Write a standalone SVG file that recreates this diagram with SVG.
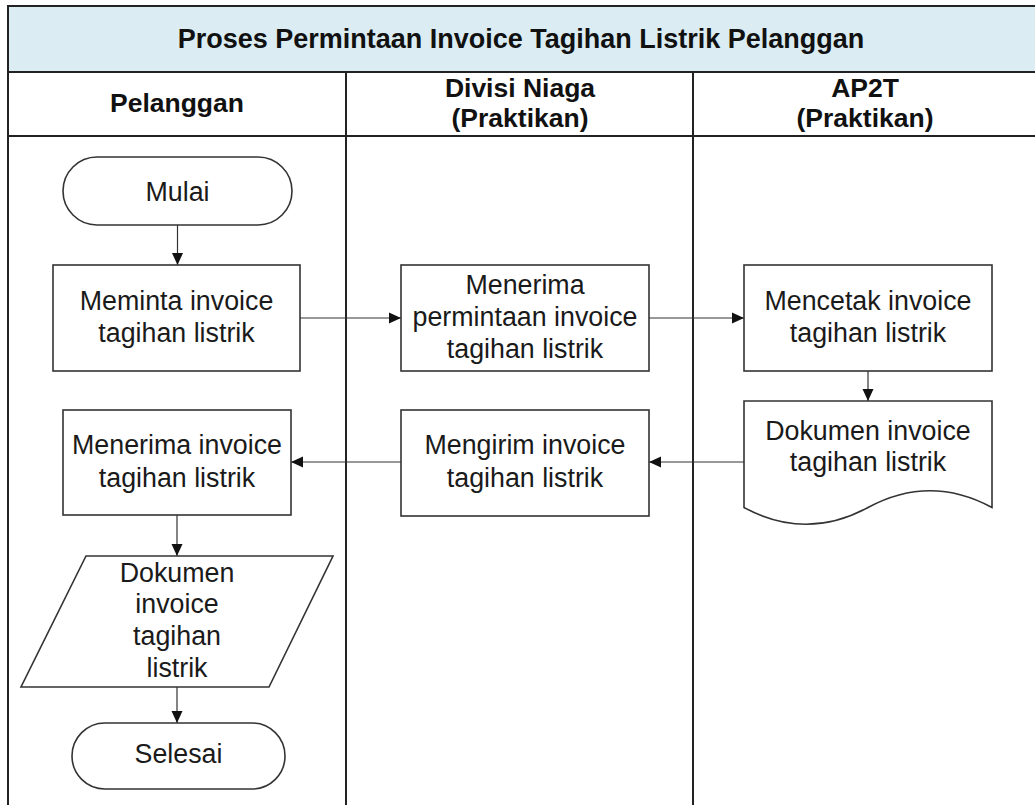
<svg xmlns="http://www.w3.org/2000/svg" width="1035" height="805" viewBox="0 0 1035 805">
<style>
  .lane { stroke: #222; stroke-width: 2; fill: none; }
  .node { fill: #ffffff; stroke: #333; stroke-width: 1.6; }
  .conn { stroke: #333; stroke-width: 1.2; fill: none; marker-end: url(#arrow); }
  .t { font-family: "Liberation Sans", Arial, sans-serif; font-size: 26.8px; fill: #1a1a1a; text-anchor: middle; }
  .h { font-family: "Liberation Sans", Arial, sans-serif; font-size: 26.5px; font-weight: bold; fill: #111; text-anchor: middle; }
  .title { font-size: 27px; }
</style>
<defs>
  <marker id="arrow" markerUnits="userSpaceOnUse" markerWidth="13" markerHeight="12" refX="12" refY="6" orient="auto">
    <path d="M0,0.5 L12,6 L0,11.5 Z" fill="#111"/>
  </marker>
</defs>
<rect width="1035" height="805" fill="#ffffff"/>
<g id="pool">
  <rect x="8" y="6" width="1030" height="66" fill="#dbedf3" stroke="#222" stroke-width="2"/>
  <line class="lane" x1="8" y1="72" x2="8" y2="805"/>
  <line class="lane" x1="8" y1="136" x2="1035" y2="136"/>
  <line class="lane" x1="346" y1="72" x2="346" y2="805"/>
  <line class="lane" x1="693" y1="72" x2="693" y2="805"/>
  <text class="h title" x="521" y="48">Proses Permintaan Invoice Tagihan Listrik Pelanggan</text>
  <text class="h" x="177" y="112">Pelanggan</text>
  <text class="h" x="520" y="97">Divisi Niaga</text>
  <text class="h" x="520" y="127">(Praktikan)</text>
  <text class="h" x="865" y="97">AP2T</text>
  <text class="h" x="865" y="127">(Praktikan)</text>
</g>
<g id="connectors">
  <path class="conn" d="M177.5,225 V265"/>
  <path class="conn" d="M300,318 H401"/>
  <path class="conn" d="M649,318 H744"/>
  <path class="conn" d="M868,371 V401"/>
  <path class="conn" d="M744,462 H649"/>
  <path class="conn" d="M401,462 H291"/>
  <path class="conn" d="M177,515 V556"/>
  <path class="conn" d="M177,687 V723"/>
</g>
<g id="mulai">
  <rect class="node" x="63" y="157" width="229" height="68" rx="34" ry="34"/>
  <text class="t" x="177.5" y="201">Mulai</text>
</g>
<g id="meminta">
  <rect class="node" x="53" y="265" width="247" height="106"/>
  <text class="t" x="176.5" y="310">Meminta invoice</text>
  <text class="t" x="176.5" y="342">tagihan listrik</text>
</g>
<g id="menerima-permintaan">
  <rect class="node" x="401" y="265" width="248" height="106"/>
  <text class="t" x="525" y="294">Menerima</text>
  <text class="t" x="525" y="326">permintaan invoice</text>
  <text class="t" x="525" y="358">tagihan listrik</text>
</g>
<g id="mencetak">
  <rect class="node" x="744" y="265" width="248" height="106"/>
  <text class="t" x="868" y="310">Mencetak invoice</text>
  <text class="t" x="868" y="342">tagihan listrik</text>
</g>
<g id="dokumen-ap2t">
  <path class="node" d="M744,401 H992 V507.5 Q930,474 868,507.5 Q806,541 744,507.5 Z"/>
  <text class="t" x="868" y="440">Dokumen invoice</text>
  <text class="t" x="868" y="471">tagihan listrik</text>
</g>
<g id="mengirim">
  <rect class="node" x="401" y="410" width="248" height="106"/>
  <text class="t" x="525" y="454">Mengirim invoice</text>
  <text class="t" x="525" y="487">tagihan listrik</text>
</g>
<g id="menerima-invoice">
  <rect class="node" x="63" y="410" width="228" height="105"/>
  <text class="t" x="177" y="454">Menerima invoice</text>
  <text class="t" x="177" y="487">tagihan listrik</text>
</g>
<g id="dokumen-pelanggan">
  <polygon class="node" points="86,556 333,556 269,687 21,687"/>
  <text class="t" x="177" y="582">Dokumen</text>
  <text class="t" x="177" y="613">invoice</text>
  <text class="t" x="177" y="645">tagihan</text>
  <text class="t" x="177" y="677">listrik</text>
</g>
<g id="selesai">
  <rect class="node" x="72" y="723" width="213" height="66" rx="33" ry="33"/>
  <text class="t" x="178.5" y="763">Selesai</text>
</g>
</svg>
